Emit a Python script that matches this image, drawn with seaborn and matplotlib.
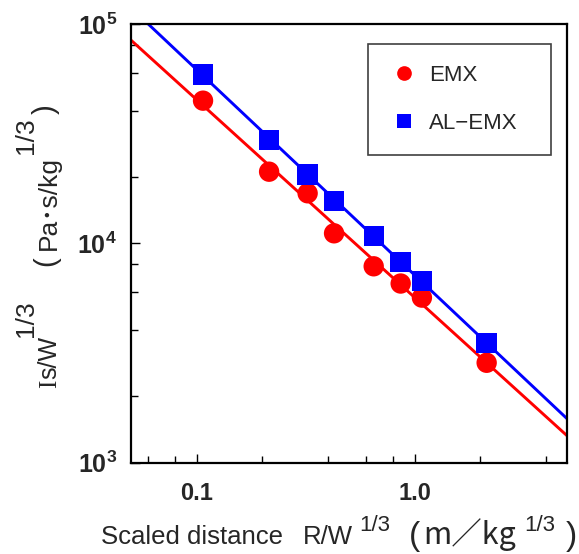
import numpy as np
import pandas as pd
import matplotlib
matplotlib.use('Agg')
import matplotlib.pyplot as plt
import seaborn as sns
from matplotlib.ticker import FixedLocator, FixedFormatter, NullFormatter
from matplotlib.transforms import IdentityTransform

# ============================================
# DATA
# ============================================
scaled_distance = [0.107, 0.215, 0.323, 0.427, 0.649, 0.863, 1.08, 2.14]
emx_impulse = [44700, 21200, 16900, 11100, 7850, 6550, 5650, 2850]
alemx_impulse = [58900, 29500, 20600, 15600, 10800, 8220, 6730, 3500]
series_names = ['EMX', 'AL-EMX']
legend_names = ['EMX', 'AL\u2212EMX']

# power-law fits: Is/W^1/3 = coef * (R/W^1/3)^exp
fit_coef = [5660, 7160]
fit_exp = [-0.902, -0.937]

x_range = [0.05, 5]
y_range = [1e3, 1e5]
x_ticks = [0.1, 1.0]
x_tick_labels = ['0.1', '1.0']
x_minor = [0.06, 0.08, 0.2, 0.4, 0.6, 0.8, 2, 4]
y_ticks = [1e3, 1e4, 1e5]
y_tick_labels = [r'$\mathbf{10^{3}}$', r'$\mathbf{10^{4}}$', r'$\mathbf{10^{5}}$']
y_minor = [2e3, 4e3, 6e3, 8e3, 2e4, 4e4, 6e4, 8e4]

colors = {'EMX': '#ff0000', 'AL-EMX': '#0000ff'}
markers = {'EMX': 'o', 'AL-EMX': 's'}

points = pd.DataFrame({
    'distance': scaled_distance * 2,
    'impulse': emx_impulse + alemx_impulse,
    'series': ['EMX'] * len(emx_impulse) + ['AL-EMX'] * len(alemx_impulse),
})

fit_x = np.geomspace(x_range[0], x_range[1], 60)
fit = pd.concat([
    pd.DataFrame({'distance': fit_x, 'impulse': c * fit_x ** e, 'series': s})
    for s, c, e in zip(series_names, fit_coef, fit_exp)
])

# ============================================
# STYLE
# ============================================
sns.set_style('ticks')
plt.rcParams['font.family'] = ['Liberation Sans', 'Noto Sans CJK JP', 'DejaVu Sans']
plt.rcParams['mathtext.fontset'] = 'custom'
plt.rcParams['mathtext.rm'] = 'Liberation Sans'
plt.rcParams['mathtext.bf'] = 'Liberation Sans:bold'

sans = ['Liberation Sans', 'Noto Sans CJK JP']
serif = ['Liberation Serif']
cjk = ['Noto Sans CJK JP', 'Liberation Sans']

fig = plt.figure(figsize=(5.79, 5.54), dpi=100)
ax = fig.add_axes([131 / 579, 1 - 462.5 / 554, 436 / 579, 438.5 / 554])
ax.set(xscale='log', yscale='log')

sns.lineplot(data=fit, x='distance', y='impulse', hue='series', palette=colors,
             hue_order=series_names, linewidth=2.1, legend=False, ax=ax, zorder=2)
sns.scatterplot(data=points, x='distance', y='impulse', hue='series', style='series',
                palette=colors, markers=markers, hue_order=series_names,
                style_order=series_names, s=215, linewidth=0, ax=ax, zorder=3)

ax.set_xlim(x_range)
ax.set_ylim(y_range)
ax.set_xlabel('')
ax.set_ylabel('')

ax.xaxis.set_major_locator(FixedLocator(x_ticks))
ax.xaxis.set_major_formatter(FixedFormatter(x_tick_labels))
ax.xaxis.set_minor_locator(FixedLocator(x_minor))
ax.xaxis.set_minor_formatter(NullFormatter())
ax.yaxis.set_major_locator(FixedLocator(y_ticks))
ax.yaxis.set_major_formatter(FixedFormatter(y_tick_labels))
ax.yaxis.set_minor_locator(FixedLocator(y_minor))
ax.yaxis.set_minor_formatter(NullFormatter())

ax.tick_params(which='both', direction='in', top=False, right=False, color='black', width=1.0)
ax.tick_params(which='major', length=6.5)
ax.tick_params(which='minor', length=4.8)
ax.tick_params(axis='x', which='major', pad=14, labelsize=17)
ax.tick_params(axis='y', which='major', pad=10, labelsize=18)
for lab in ax.get_xticklabels():
    lab.set_fontweight('bold')
for sp in ax.spines.values():
    sp.set_linewidth(1.6)
    sp.set_color('black')

# legend
handles, labels = ax.get_legend_handles_labels()
leg = ax.legend(handles, legend_names, loc='upper left', mode='expand',
                bbox_to_anchor=(237 / 436, 0.5, 183 / 436, 0.4544), borderaxespad=0,
                markerscale=0.72, fancybox=False, framealpha=1, borderpad=0.95,
                handlelength=1.33, handletextpad=0.46, labelspacing=1.2,
                prop={'family': 'Liberation Sans', 'size': 16})
leg.get_frame().set_edgecolor('#404040')
leg.get_frame().set_linewidth(1.2)


# ============================================
# AXIS LABELS (pieces with superscripts, pixel positions)
# ============================================
def draw_run(x, y, pieces, vertical=False):
    # pos = None -> piece follows the previous one
    renderer = fig.canvas.get_renderer()
    cur = y if vertical else x
    for pos, text, size, rise, family in pieces:
        if pos is not None:
            cur = pos
        if vertical:
            t = fig.text(x - rise, cur, text, fontsize=size, family=family, rotation=90,
                         rotation_mode='anchor', ha='left', va='baseline',
                         transform=IdentityTransform())
            cur += t.get_window_extent(renderer).height + 1
        else:
            t = fig.text(cur, y + rise, text, fontsize=size, family=family,
                         ha='left', va='baseline', transform=IdentityTransform())
            cur += t.get_window_extent(renderer).width + 1


draw_run(101, 10, [
    (101, 'Scaled distance', 18.5, 0, sans),
    (303, 'R/W', 18.5, 0, sans),
    (359, '1/3', 16, 13, sans),
    (409, '(', 24, -1, sans),
    (423, 'm\uff0fkg', 22, 0, cjk),
    (524, '1/3', 16, 13, sans),
    (566, ')', 24, -1, sans),
])

draw_run(56, 166, [
    (166, 'I', 18, 0, serif),
    (None, 's/W', 18, 0, sans),
    (217, '1/3', 19, 23, sans),
    (288, '(', 21, 2, sans),
    (304, 'Pa\uff65s/kg', 19, 0, sans),
    (400, '1/3', 19, 23, sans),
    (440, ')', 21, 2, sans),
], vertical=True)

plt.savefig('out.png', dpi=100)
plt.close()
